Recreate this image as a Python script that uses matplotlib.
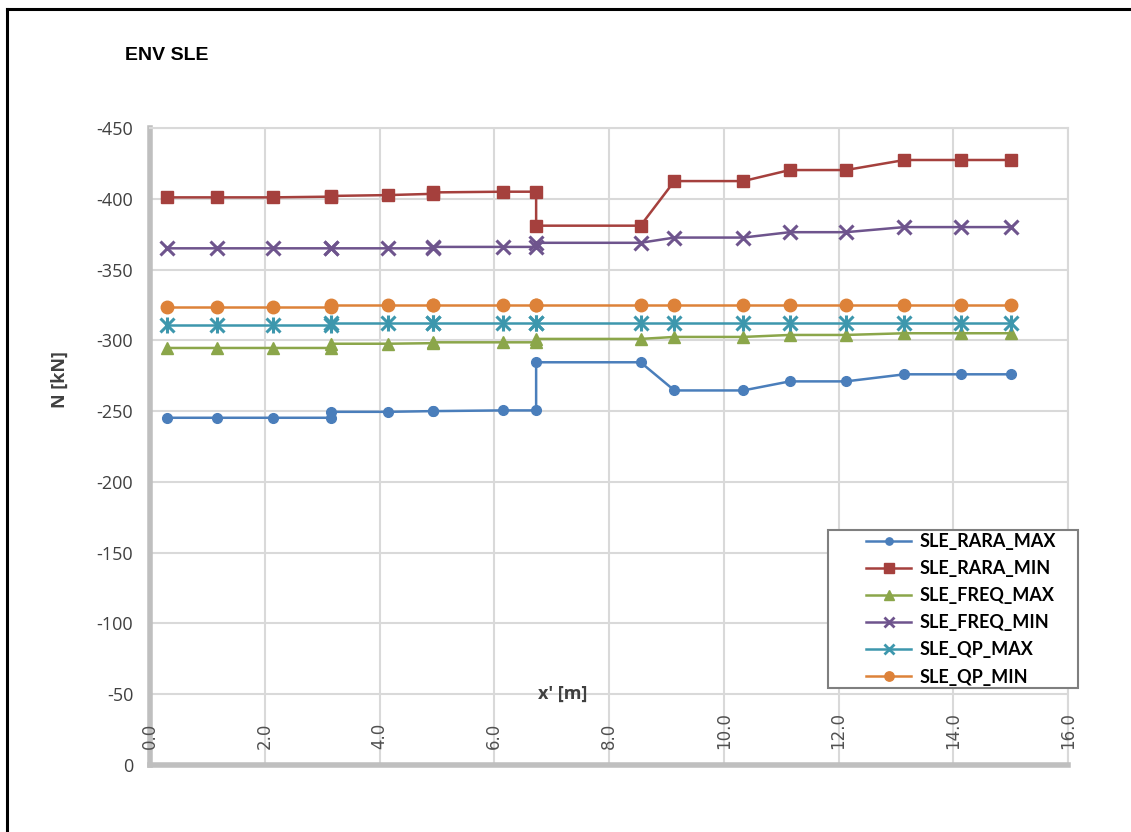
import numpy as np
import matplotlib
matplotlib.use('Agg')
import matplotlib.pyplot as plt
from matplotlib.lines import Line2D
from matplotlib.patches import Rectangle

# positions along the element, duplicated where a section changes
x = [0.29, 1.16, 2.14, 3.15, 3.15, 4.14, 4.94, 4.94, 6.15, 6.73, 6.73,
     8.55, 9.14, 10.34, 11.15, 12.13, 13.15, 14.14, 15.0]

rara_max = [-245.3, -245.3, -245.3, -245.3, -249.5, -249.5, -250.0, -250.0, -250.5, -250.5, -284.5,
            -284.5, -264.6, -264.6, -271.0, -271.0, -276.0, -276.0, -276.0]
rara_min = [-401.0, -401.0, -401.0, -401.5, -402.0, -402.6, -403.5, -404.5, -405.0, -405.0, -381.0,
            -381.0, -412.5, -412.5, -420.3, -420.3, -427.4, -427.4, -427.4]
freq_max = [-294.6, -294.6, -294.6, -294.6, -297.6, -297.6, -298.0, -298.6, -298.6, -298.6, -301.0,
            -301.0, -302.4, -302.4, -303.8, -303.8, -305.0, -305.0, -305.0]
freq_min = [-365.0, -365.0, -365.0, -365.0, -365.0, -365.0, -365.0, -366.0, -366.0, -366.0, -368.9,
            -368.9, -372.6, -372.6, -376.4, -376.4, -380.0, -380.0, -380.0]
qp_max = [-311.1, -311.1, -311.1, -311.1, -312.3, -312.3, -312.3, -312.3, -312.3, -312.3, -312.3,
          -312.3, -312.3, -312.3, -312.3, -312.3, -312.3, -312.3, -312.3]
qp_min = [-323.8, -323.8, -323.8, -323.8, -325.0, -325.0, -325.0, -325.0, -325.0, -325.0, -325.0,
          -325.0, -325.0, -325.0, -325.0, -325.0, -325.0, -325.0, -325.0]

labels = ['SLE_RARA_MAX', 'SLE_RARA_MIN', 'SLE_FREQ_MAX', 'SLE_FREQ_MIN', 'SLE_QP_MAX', 'SLE_QP_MIN']
colors = ['#4a7ebb', '#a5403d', '#8ba64a', '#6e548d', '#3d97ad', '#dd8239']
markers = ['o', 's', '^', 'x', '*', 'o']
msizes = [7, 9, 9, 10, 10, 9]

x_ticks = np.arange(0, 16.1, 2)
y_ticks = np.arange(-450, 1, 50)

fig = plt.figure(figsize=(11.31, 8.32), dpi=100)
ax = fig.add_axes([150 / 1131, 1 - 765 / 832, 918 / 1131, 637 / 832])

series = [rara_max, rara_min, freq_max, freq_min, qp_max, qp_min]
for vals, lab, c, m, ms in zip(series, labels, colors, markers, msizes):
    if m == 'x':
        ax.plot(x, vals, color=c, lw=1.8, marker=m, ms=ms, mew=2.2, label=lab)
    elif m == '*':
        # asterisk marker: an x with a vertical bar through it
        ax.plot(x, vals, color=c, lw=1.8, label=lab)
        ax.plot(x, vals, ls='none', marker='x', ms=ms, mew=2.2, color=c)
        ax.plot(x, vals, ls='none', marker='|', ms=ms + 2, mew=2.2, color=c)
    else:
        ax.plot(x, vals, color=c, lw=1.8, marker=m, ms=ms, mec=c, label=lab)

ax.set_xlim(0, 16)
ax.set_ylim(0, -450)
ax.set_xticks(x_ticks)
ax.set_yticks(y_ticks)
ax.set_yticklabels(['%d' % v for v in y_ticks], fontsize=13, color='#404040', family='Open Sans')
ax.set_xticklabels([])
ax.tick_params(length=0, pad=12)
for xt in x_ticks:
    ax.text(xt, -11, '%.1f' % xt, rotation=90, ha='center', va='bottom',
            fontsize=12, color='#505050', family='DejaVu Sans')
ax.grid(True, color='#d9d9d9', lw=1.5)
ax.set_axisbelow(True)
for s in ['top', 'right']:
    ax.spines[s].set_color('#d9d9d9')
    ax.spines[s].set_linewidth(1.5)
for s in ['left', 'bottom']:
    ax.spines[s].set_color('#bfbfbf')
    ax.spines[s].set_linewidth(4)

ax.text(7.2, -50, "x' [m]", ha='center', va='center', fontsize=13, fontweight='bold',
        color='#404040', family='Open Sans')
fig.text(60 / 1131, 1 - 380 / 832, 'N [kN]', rotation=90, ha='center', va='center',
         fontsize=13, fontweight='bold', color='#404040', family='Open Sans')
fig.text(125 / 1131, 1 - 55 / 832, 'ENV SLE', ha='left', va='center',
         fontsize=14, fontweight='bold', color='black', family='Liberation Sans')

handles = []
for lab, c, m, ms in zip(labels, colors, markers, msizes):
    if m == '*':
        handles.append(Line2D([], [], color=c, lw=1.8, marker='x', ms=7, mew=2, label=lab))
    else:
        handles.append(Line2D([], [], color=c, lw=1.8, marker=m, ms=ms * 0.75,
                              mew=2 if m == 'x' else 1, label=lab))
leg = ax.legend(handles=handles, loc='upper left', bbox_to_anchor=(866 / 1131, 1 - 533 / 832),
                bbox_transform=fig.transFigure,
                prop={'family': 'Lato', 'weight': 'bold', 'size': 13},
                handlelength=2.5, labelspacing=0.56, borderpad=0, handletextpad=0.45,
                frameon=False, borderaxespad=0)
for t in leg.get_texts():
    t.set_color('black')
leg.set_zorder(6)

# legend frame drawn separately so the entries sit centred like the original
ax.add_patch(Rectangle((828 / 1131, 1 - 688 / 832), 250 / 1131, 158 / 832,
                       transform=fig.transFigure, clip_on=False, facecolor='white',
                       edgecolor='#7f7f7f', lw=1.5, zorder=5))

# outer chart border (top and left visible)
fig.add_artist(Line2D([7 / 1131, 7 / 1131], [0, 1 - 9 / 832], color='black', lw=2.2))
fig.add_artist(Line2D([7 / 1131, 1], [1 - 9 / 832, 1 - 9 / 832], color='black', lw=2.2))

fig.savefig('out.png', dpi=100)
